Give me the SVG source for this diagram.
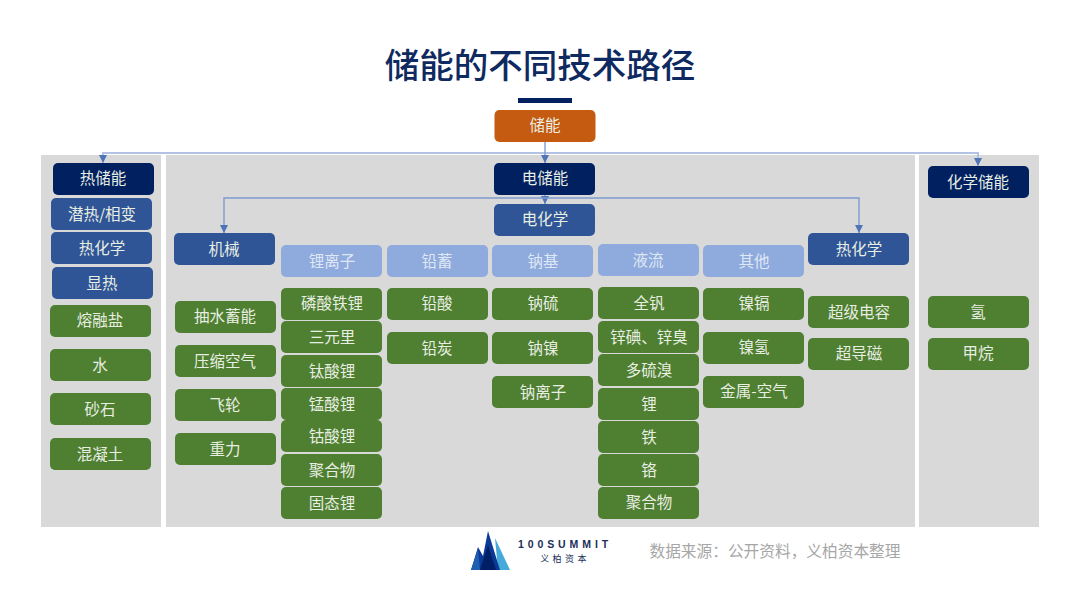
<svg xmlns="http://www.w3.org/2000/svg" width="1080" height="607" viewBox="0 0 1080 607">
<style>
text{font-family:"Noto Sans CJK SC","Liberation Sans",sans-serif;text-anchor:middle}
.n rect{rx:5px;ry:5px;width:101px;height:32px}
.n text{font-size:15.5px;fill:#e8eee2}
.g rect{fill:#4f7f31}
.d rect{fill:#002060}
.b rect{fill:#2f5597}
.l rect{fill:#8faadc}
.l text{fill:#dfe7f5}
.o rect{fill:#c55a11}
.p{fill:#d9d9d9}
.c{fill:none;stroke:#7f9bd0;stroke-width:1.4}
.t{fill:none;stroke:#b3c2e4;stroke-width:2}
</style>
<defs><marker id="a" markerUnits="userSpaceOnUse" markerWidth="9" markerHeight="8" refX="8" refY="4" orient="auto"><path d="M0 0L8 4L0 8Z" fill="#4f74b8"/></marker></defs>
<rect width="1080" height="607" fill="#fff"/>
<text x="540" y="78" font-size="34.5" font-weight="500" fill="#0f2a60">储能的不同技术路径</text>
<rect x="518" y="98" width="54" height="5" fill="#002060"/>
<g id="panels"><rect class="p" x="41" y="155" width="120" height="372"/><rect class="p" x="166" y="155" width="749" height="372"/><rect class="p" x="919" y="155" width="120" height="372"/></g>
<g id="connectors">
<path class="t" d="M545 153H103V163" marker-end="url(#a)"/>
<path class="t" d="M545 153H978V166" marker-end="url(#a)"/>
<path class="c" d="M545 141V163" marker-end="url(#a)"/>
<path class="c" d="M545 194V204" marker-end="url(#a)"/>
<path class="c" d="M545 198H224V233" marker-end="url(#a)"/>
<path class="c" d="M545 198H859V233" marker-end="url(#a)"/>
</g>
<g id="n-root" class="n o"><rect x="494.5" y="110"/><text x="545" y="131">储能</text></g>
<g id="n-thermal" class="n d"><rect x="53" y="163"/><text x="103" y="184">热储能</text></g>
<g id="n-latent" class="n b"><rect x="51" y="198"/><text x="102" y="220">潜热/相变</text></g>
<g id="n-thermochem" class="n b"><rect x="51" y="232"/><text x="102" y="254">热化学</text></g>
<g id="n-sensible" class="n b"><rect x="52" y="267"/><text x="102" y="289">显热</text></g>
<g id="n-salt" class="n g"><rect x="50" y="305"/><text x="100" y="326">熔融盐</text></g>
<g id="n-water" class="n g"><rect x="50" y="349"/><text x="100" y="371">水</text></g>
<g id="n-sand" class="n g"><rect x="50" y="393"/><text x="100" y="415">砂石</text></g>
<g id="n-concrete" class="n g"><rect x="50" y="438"/><text x="100" y="460">混凝土</text></g>
<g id="n-electric" class="n d"><rect x="494" y="163"/><text x="545" y="184">电储能</text></g>
<g id="n-echem" class="n b"><rect x="494" y="204"/><text x="545" y="225">电化学</text></g>
<g id="n-mech" class="n b"><rect x="174" y="233"/><text x="224" y="255">机械</text></g>
<g id="n-liion" class="n l"><rect x="281" y="245"/><text x="332" y="267">锂离子</text></g>
<g id="n-lead" class="n l"><rect x="387" y="245"/><text x="437" y="267">铅蓄</text></g>
<g id="n-na" class="n l"><rect x="492" y="245"/><text x="543" y="267">钠基</text></g>
<g id="n-flow" class="n l"><rect x="598" y="244"/><text x="648" y="266">液流</text></g>
<g id="n-other" class="n l"><rect x="703" y="245"/><text x="754" y="267">其他</text></g>
<g id="n-thermochem2" class="n b"><rect x="808" y="233"/><text x="859" y="255">热化学</text></g>
<g id="n-chem" class="n d"><rect x="928" y="166"/><text x="978" y="188">化学储能</text></g>
<g id="n-pumped" class="n g"><rect x="175" y="301"/><text x="225" y="322">抽水蓄能</text></g>
<g id="n-caes" class="n g"><rect x="175" y="345"/><text x="225" y="367">压缩空气</text></g>
<g id="n-flywheel" class="n g"><rect x="175" y="389"/><text x="225" y="411">飞轮</text></g>
<g id="n-gravity" class="n g"><rect x="175" y="433"/><text x="225" y="455">重力</text></g>
<g id="n-lfp" class="n g"><rect x="281" y="288"/><text x="332" y="309">磷酸铁锂</text></g>
<g id="n-ncm" class="n g"><rect x="281" y="321"/><text x="332" y="343">三元里</text></g>
<g id="n-lto" class="n g"><rect x="281" y="355"/><text x="332" y="377">钛酸锂</text></g>
<g id="n-lmo" class="n g"><rect x="281" y="388"/><text x="332" y="410">锰酸锂</text></g>
<g id="n-lco" class="n g"><rect x="281" y="420"/><text x="332" y="442">钴酸锂</text></g>
<g id="n-poly1" class="n g"><rect x="281" y="454"/><text x="332" y="476">聚合物</text></g>
<g id="n-solid" class="n g"><rect x="281" y="487"/><text x="332" y="509">固态锂</text></g>
<g id="n-pbacid" class="n g"><rect x="387" y="288"/><text x="437" y="309">铅酸</text></g>
<g id="n-pbc" class="n g"><rect x="387" y="332"/><text x="437" y="354">铅炭</text></g>
<g id="n-nas" class="n g"><rect x="492" y="288"/><text x="543" y="309">钠硫</text></g>
<g id="n-nani" class="n g"><rect x="492" y="332"/><text x="543" y="354">钠镍</text></g>
<g id="n-naion" class="n g"><rect x="492" y="376"/><text x="543" y="398">钠离子</text></g>
<g id="n-v" class="n g"><rect x="598" y="287"/><text x="649" y="309">全钒</text></g>
<g id="n-zn" class="n g"><rect x="598" y="321"/><text x="649" y="343">锌碘、锌臭</text></g>
<g id="n-ps" class="n g"><rect x="598" y="354"/><text x="649" y="376">多硫溴</text></g>
<g id="n-li" class="n g"><rect x="598" y="388"/><text x="649" y="410">锂</text></g>
<g id="n-fe" class="n g"><rect x="598" y="421"/><text x="649" y="443">铁</text></g>
<g id="n-cr" class="n g"><rect x="598" y="454"/><text x="649" y="476">铬</text></g>
<g id="n-poly2" class="n g"><rect x="598" y="487"/><text x="649" y="508">聚合物</text></g>
<g id="n-nicd" class="n g"><rect x="703" y="288"/><text x="754" y="309">镍镉</text></g>
<g id="n-nih" class="n g"><rect x="703" y="332"/><text x="754" y="353">镍氢</text></g>
<g id="n-air" class="n g"><rect x="703" y="376"/><text x="754" y="397">金属-空气</text></g>
<g id="n-sc" class="n g"><rect x="808" y="296"/><text x="859" y="318">超级电容</text></g>
<g id="n-smes" class="n g"><rect x="808" y="338"/><text x="859" y="359">超导磁</text></g>
<g id="n-h2" class="n g"><rect x="928" y="296"/><text x="978" y="318">氢</text></g>
<g id="n-ch4" class="n g"><rect x="928" y="338"/><text x="978" y="359">甲烷</text></g>
<g id="logo">
<path d="M495 538L510 570H498Z" fill="#45a9dc"/>
<path d="M471 570L478 547L483 556L488 531L500 570Z" fill="#0a3a96"/>
<path d="M480 570L488 545L496 570Z" fill="#001f66"/>
<path d="M471 570L478 549L480 570Z" fill="#1f5fb0"/>
<text x="565" y="548" font-size="10.5" font-weight="600" letter-spacing="3.9" fill="#1a2f5a" style="font-family:'Liberation Sans',sans-serif">100SUMMIT</text>
<text x="565" y="562" font-size="9" letter-spacing="3.4" fill="#1a2f5a">义柏资本</text>
</g>
<text x="775" y="557" font-size="15.7" fill="#a6a6a6">数据来源：公开资料，义柏资本整理</text>
</svg>
